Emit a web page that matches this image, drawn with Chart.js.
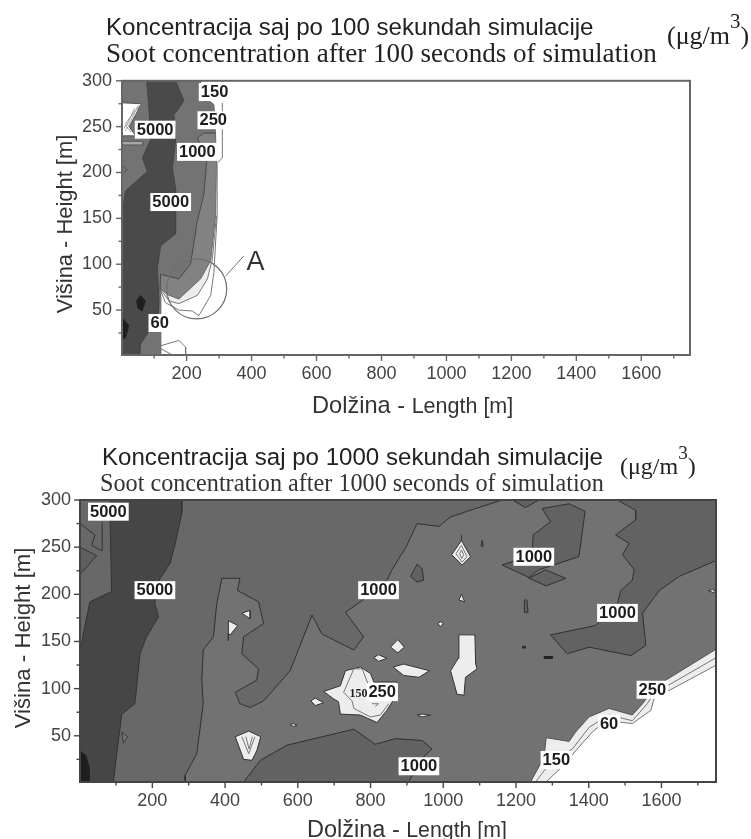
<!DOCTYPE html>
<html><head><meta charset="utf-8">
<script src="https://cdn.jsdelivr.net/npm/chart.js@4"></script>
<style>
html,body{margin:0;padding:0;background:#fff;width:751px;height:839px;overflow:hidden}
canvas{position:absolute;left:0;filter:blur(.55px)}
.t{position:absolute;white-space:nowrap;line-height:1;color:#222;filter:blur(.3px)}
.a{font-family:"Liberation Sans",Arial,sans-serif}
.s{font-family:"Liberation Serif","Times New Roman",serif}
sup{font-size:.8em;line-height:0;position:relative;top:-.32em;vertical-align:super}
</style></head><body>
<div class="t a" style="left:106px;top:15px;font-size:24.1px">Koncentracija saj po 100 sekundah simulacije</div>
<div class="t s" style="left:106px;top:40px;font-size:27.1px">Soot concentration after 100 seconds of simulation</div>
<div class="t s" style="left:667px;top:23px;font-size:26px">(μg/m<sup>3</sup>)</div>
<div class="t a" style="left:312px;top:394px;font-size:23.6px;color:#333">Dolžina - <span style="font-size:21.5px">Length [m]</span></div>
<div class="t a" style="left:102px;top:445px;font-size:24.1px">Koncentracija saj po 1000 sekundah simulacije</div>
<div class="t s" style="left:100px;top:471px;font-size:24.2px;color:#333">Soot concentration after 1000 seconds of simulation</div>
<div class="t s" style="left:620px;top:454px;font-size:24px">(μg/m<sup>3</sup>)</div>
<div class="t a" style="left:307px;top:818px;font-size:23.5px;color:#333">Dolžina - <span style="font-size:21.3px">Length [m]</span></div>
<canvas id="c1" width="751" height="370" style="top:60px"></canvas>
<canvas id="c2" width="751" height="359" style="top:480px"></canvas>
<script>
// ---- shared axis values ----
const xTickValues=[100,200,300,400,500,600,700,800,900,1000,1100,1200,1300,1400,1500,1600,1700];
const xTickLabels=[200,400,600,800,1000,1200,1400,1600];
const yTickValues=[25,50,75,100,125,150,175,200,225,250,275,300];
const yTickLabels=[50,100,150,200,250,300];
const yAxisTitle='Višina - Height [m]';

// ---- chart 1: after 100 s (x,y in metres) ----
const c1Band=[[1,300],[243,300],[247,285],[284,274],[289,241],[292,212],[289,153],[274,104],[243,84],[176,62],[140,67],[120,73],[120,1],[1,1]];
const c1Light=[[120,73],[140,67],[176,62],[243,84],[274,104],[289,153],[292,153],[279,105],[264,84],[233,66],[176,57],[146,60],[120,72]];
const c1Mid=[[1,300],[243,300],[247,285],[284,274],[289,243],[253,243],[233,238],[262,212],[253,176],[233,147],[212,100],[176,84],[120,89],[120,1],[1,1]];
const c1Dark=[[77,300],[166,300],[192,278],[161,263],[166,234],[156,205],[166,183],[166,133],[120,120],[110,96],[115,60],[112,42],[58,13],[56,1],[1,1],[1,154],[12,180],[79,201],[64,216],[89,236],[84,270]];
const c1Darkest1=[[58,66],[73,60],[63,49],[50,52],[46,60]];
const c1Darkest2=[[1,42],[22,33],[12,20],[1,18]];
const c1Hole=[[1,276],[60,275],[43,263],[23,250],[43,240],[1,240]];
const c1Strip=[[1,234],[62,234],[67,230],[1,230]];
const c1HoleLine1=[[60,275],[15,255],[8,248]];
const c1HoleLine2=[[50,273],[20,250],[10,245]];
const c1HoleLine3=[[40,270],[14,250],[30,244]];
const c1Bump=[[1,208],[17,203],[1,198]];
const c1LineA=[[120,72],[146,60],[176,57],[233,66],[264,84],[279,105],[292,153]];
const c1LineB=[[120,71],[135,58],[176,50],[217,49],[238,44],[274,66],[284,91],[294,153],[294,210],[310,216],[310,276]];
const c1Line1000=[[289,243],[253,243],[233,238],[262,212],[253,176],[233,147],[212,100],[176,84],[120,89],[118,71]];
const c1Bottom1=[[120,11],[176,17],[197,9.5],[197,1]];
const c1Bottom2=[[120,8],[151,2],[161,1]];
const c1Leader=[[320,87],[376,109]];
const c1Circle=[[231,73]];
const c1LabelText=['150','250','5000','1000','5000','60'];
const c1LabelX=[286,282,103,233,151,117];
const c1LabelY=[287.7,257,246.7,222.5,167.8,35.9];
const c1MarkText=['A'];
const c1MarkX=[412];
const c1MarkY=[102];

// ---- chart 2: after 1000 s (x,y in metres) ----
const c2Light=[[1,1],[1,300],[1751,300],[1751,125],[1621,98],[1584,96],[1571,77],[1520,63],[1447,66],[1410,54],[1364,34],[1327,17],[1282,1]];
const c2Main=[[1,1],[1,300],[1751,300],[1751,142],[1612,109],[1575,98],[1548,84],[1520,72],[1456,79],[1401,70],[1364,54],[1346,44],[1283,48],[1277,27],[1240,1]];
const c2Region1=[[1,300],[1162,300],[1089,291],[1020,282],[988,272],[928,275],[896,249],[859,226],[845,215],[772,192],[731,181],[781,155],[754,141],[666,158],[639,178],[579,119],[506,87],[469,80],[441,84],[428,96],[487,109],[492,121],[446,137],[451,155],[506,169],[492,192],[434,204],[441,217],[391,217],[377,190],[368,155],[340,141],[336,109],[340,84],[322,31],[290,8],[290,1],[1,1]];
const c2Region2=[[1479,300],[1529,289],[1529,279],[1474,263],[1511,254],[1493,242],[1525,226],[1520,215],[1488,204],[1479,190],[1419,167],[1295,157],[1341,137],[1401,144],[1516,135],[1557,146],[1548,180],[1594,204],[1649,219],[1751,236],[1751,300]];
const c2Region3=[[1272,291],[1346,296],[1390,288],[1382,265],[1373,240],[1318,233],[1263,226],[1235,218],[1162,231],[1199,236],[1245,245],[1247,263],[1295,277]];
const c2Region4=[[1235,217],[1281,226],[1337,217],[1283,209]];
const c2Region5=[[451,1],[497,24],[570,40],[754,57],[813,41],[868,47],[942,45],[969,36],[937,24],[905,1]];
const c2Small1=[[910,219],[928,232],[942,227],[946,215],[928,213]];
const c2Small2=[[1107,257],[1110,252],[1107,250],[1104,252]];
const c2Small3=[[1223,194],[1230,194],[1233,181],[1222,181]];
const c2Small4=[[1218,145],[1226,145],[1226,143],[1218,143]];
const c2Small5=[[1277,134],[1300,134],[1300,132],[1277,132]];
const c2TopNotch=[[1190,300],[1226,292],[1263,300]];
const c2Tri=[[116,54],[132,49],[120,42]];
const c2Dark=[[84,300],[281,300],[281,286],[263,254],[249,233],[212,211],[207,190],[217,176],[184,155],[166,137],[152,84],[116,73],[102,31],[93,1],[1,1],[1,137],[10,158],[28,192],[88,203],[84,273]];
const c2Darkest=[[1,34],[17,29],[26,17],[26,1],[1,1]];
const c2Left1=[[1,275],[42,263],[33,252],[62,246],[62,277]];
const c2Left2=[[1,250],[47,241],[1,221]];
const c2Holes=[
 [[409,172],[435,167],[414,157],[409,158]],
 [[446,180],[469,183],[469,174]],
 [[671,97],[717,103],[731,119],[772,123],[800,116],[809,107],[873,107],[871,93],[845,77],[818,64],[772,72],[717,73],[712,86],[699,89]],
 [[636,87],[648,90],[671,85],[648,82]],
 [[855,144],[875,152],[893,144],[875,138]],
 [[809,133],[822,136],[845,132],[822,129]],
 [[862,123],[891,126],[962,119],[933,112],[891,114]],
 [[928,72],[942,73],[965,72],[942,70]],
 [[579,62],[588,63],[598,61],[588,60]],
 [[1043,157],[1087,157],[1089,126],[1093,121],[1061,112],[1057,93],[1038,94],[1020,119],[1041,132]],
 [[1043,194],[1050,200],[1059,192]],
 [[985,169],[992,171],[1001,169],[992,166]],
 [[1023,242],[1050,257],[1075,240],[1052,231]],
 [[428,49],[465,55],[498,49],[487,34],[474,24],[451,25]],
 [[1729,204],[1741,205],[1751,203],[1741,202]]
];
const c2Inner=[
 [[795,103],[777,121],[754,121],[726,96],[749,87],[754,79],[800,70],[827,72],[850,84]],
 [[804,84],[822,84],[813,81]],
 [[1035,243],[1050,252],[1065,240],[1052,234],[1035,243]],
 [[1045,243],[1050,247],[1056,242],[1051,238],[1045,243]],
 [[446,49],[465,31],[482,49]],
 [[457,49],[466,36],[475,49]]
];
const c2Tails=[[[409,158],[409,151]],[[1050,257],[1050,263]]];
const c2LineA=[[1254,1],[1291,20],[1355,36],[1401,59],[1456,72],[1520,66],[1561,84],[1580,96],[1612,102],[1751,133]];
const c2LineB=[[1282,1],[1327,17],[1364,34],[1410,54],[1447,66],[1520,63],[1571,77],[1584,96],[1621,98],[1751,125]];
const c2LabelText=['5000','5000','1000','250','1000','1000','250','60','150','1000'];
const c2LabelX=[79,207,822,832,1249,1479,1575,1456,1311,933];
const c2LabelY=[287.6,204.4,204.4,96.3,239.8,180.3,98.8,62.7,24.4,17.7];
const c2SmallText=['150'];
const c2SmallX=[767];
const c2SmallY=[93.9];

// ---- colours ----
const GREY_DARKEST='#1e1e1e',GREY_DARK='#464646',GREY_R='#626262',GREY_MAIN='#727272',GREY_LIGHT='#ededed';

const toPts=a=>a.map(([x,y])=>({x,y}));
const poly=(pts,fill,stroke,w=1)=>({data:toPts([...pts,pts[0]]),showLine:true,fill:'shape',backgroundColor:fill,borderColor:stroke,borderWidth:w,pointRadius:0,tension:0});
const line=(pts,stroke,w=1)=>({data:toPts(pts),showLine:true,fill:false,borderColor:stroke,borderWidth:w,pointRadius:0,tension:0});
const ordered=l=>l.map((d,i)=>({...d,order:-i}));

const deco={id:'deco',afterDatasetsDraw(ch,_,o){
  const {ctx,chartArea:a,scales:{x,y}}=ch;
  ctx.save();
  o.labels.forEach(([t,vx,vy])=>{
    ctx.font=o.labelFont;
    const w=ctx.measureText(t).width+4,h=18;
    const px=x.getPixelForValue(vx),py=y.getPixelForValue(vy);
    ctx.fillStyle='#fff';ctx.fillRect(px-w/2,py-h/2,w,h);
  });
  ctx.textAlign='center';ctx.textBaseline='middle';
  o.labels.forEach(([t,vx,vy])=>{
    ctx.font=o.labelFont;ctx.fillStyle='#1c1c1c';
    ctx.fillText(t,x.getPixelForValue(vx),y.getPixelForValue(vy)+.5);
  });
  (o.extra||[]).forEach(([t,vx,vy,f,c])=>{
    ctx.font=f;ctx.fillStyle=c;
    ctx.fillText(t,x.getPixelForValue(vx),y.getPixelForValue(vy));
  });
  ctx.strokeStyle=o.frame;ctx.lineWidth=2;
  ctx.strokeRect(a.left,a.top,a.right-a.left,a.bottom-a.top);
  ctx.lineWidth=1.4;ctx.strokeStyle=o.frame;
  x.ticks.forEach(t=>{const p=x.getPixelForValue(t.value),l=t.label?6:3.5;
    ctx.beginPath();ctx.moveTo(p,a.bottom);ctx.lineTo(p,a.bottom+l);ctx.stroke();});
  y.ticks.forEach(t=>{const p=y.getPixelForValue(t.value),l=t.label?6:3.5;
    ctx.beginPath();ctx.moveTo(a.left,p);ctx.lineTo(a.left-l,p);ctx.stroke();});
  ctx.restore();
}};

function opts(cfg){
  return {responsive:false,animation:false,
   layout:{autoPadding:false,padding:{top:cfg.top,right:cfg.right,left:0,bottom:0}},
   plugins:{legend:{display:false},tooltip:{enabled:false},deco:cfg.deco},
   scales:{
    x:{type:'linear',min:1,max:1750,grid:{display:false,drawTicks:false},border:{display:false},
       afterBuildTicks:s=>{s.ticks=xTickValues.map(value=>({value}))},
       afterFit:s=>{s.height=cfg.xh},
       ticks:{autoSkip:false,maxRotation:0,padding:cfg.xpad,color:'#444',font:{family:'"Liberation Sans",Arial,sans-serif',size:18},
              callback:v=>xTickLabels.includes(v)?String(v):''}},
    y:{type:'linear',min:1,max:300,grid:{display:false,drawTicks:false},border:{display:false},
       afterBuildTicks:s=>{s.ticks=yTickValues.map(value=>({value}))},
       afterFit:s=>{s.width=cfg.yw},
       title:{display:true,text:cfg.ytitle,color:'#333',font:{family:'"Liberation Sans",Arial,sans-serif',size:cfg.ts},padding:{top:cfg.tp,bottom:0}},
       ticks:{autoSkip:false,padding:cfg.ypad,color:'#444',font:{family:'"Liberation Sans",Arial,sans-serif',size:18},
              callback:v=>yTickLabels.includes(v)?String(v):''}}
   }};
}
const zip=(t,x,y)=>t.map((s,i)=>[s,x[i],y[i]]);
const BOLD='bold 16.5px "Liberation Sans",Arial,sans-serif';

new Chart(document.getElementById('c1'),{type:'scatter',plugins:[deco],
 data:{datasets:ordered([
  poly(c1Light,GREY_LIGHT,'rgba(0,0,0,0)',0),
  poly(c1Band,'#828282','#6a6a6a'),
  poly(c1Mid,'#737373','rgba(0,0,0,0)',0),
  poly(c1Dark,'#4a4a4a','#444'),
  poly(c1Darkest1,GREY_DARKEST,'#222'),
  poly(c1Darkest2,GREY_DARKEST,'#222'),
  poly(c1Strip,'#a8a8a8','#555'),
  poly(c1Hole,'#ffffff','#555'),
  line(c1HoleLine1,'#999'),line(c1HoleLine2,'#aaa'),line(c1HoleLine3,'#999'),
  line(c1Bump,'#555'),
  line(c1LineA,'#777'),line(c1LineB,'#777'),line(c1Line1000,'#4a4a4a'),
  line(c1Bottom1,'#777'),line(c1Bottom2,'#777'),line(c1Leader,'#777'),
  {data:toPts(c1Circle),pointRadius:30,pointBackgroundColor:'rgba(0,0,0,0)',pointBorderColor:'#6e6e6e',pointBorderWidth:1.2}
 ])},
 options:opts({top:19,right:61,xh:75,yw:122,xpad:8,ypad:10,ts:21.9,tp:52.7,ytitle:yAxisTitle+'  ',
  deco:{labels:zip(c1LabelText,c1LabelX,c1LabelY),labelFont:BOLD,frame:'#666',
        extra:zip(c1MarkText,c1MarkX,c1MarkY).map(a=>[...a,'27px "Liberation Sans",Arial,sans-serif','#333'])}})
});

new Chart(document.getElementById('c2'),{type:'scatter',plugins:[deco],
 data:{datasets:ordered([
  poly(c2Light,GREY_LIGHT,'rgba(0,0,0,0)',0),
  poly(c2Main,GREY_MAIN,'#555'),
  poly(c2Region1,'#686868','#303030'),
  poly(c2Region2,GREY_R,'#303030'),
  poly(c2Region3,GREY_R,'#303030'),
  poly(c2Region4,GREY_R,'#303030'),
  poly(c2Region5,GREY_R,'#303030'),
  poly(c2Small1,GREY_R,'#303030'),
  poly(c2Small2,GREY_R,'#303030'),
  poly(c2Small3,GREY_R,'#303030'),
  poly(c2Small4,'#333','#303030'),
  poly(c2Small5,'#222','#222'),
  poly(c2TopNotch,GREY_R,'#303030'),
  poly(c2Tri,GREY_MAIN,'#3a3a3a'),
  poly(c2Dark,GREY_DARK,'#333'),
  poly(c2Darkest,GREY_DARKEST,'#222'),
  line(c2Left1,'#333'),
  poly(c2Left2,'#5e5e5e','#333'),
  ...c2Holes.map(h=>poly(h,GREY_LIGHT,'#333')),
  ...c2Inner.map(h=>line(h,'#777')),
  ...c2Tails.map(h=>line(h,'#333')),
  line(c2LineA,'#777'),line(c2LineB,'#777')
 ])},
 options:opts({top:20,right:35,xh:57,yw:80,xpad:8,ypad:9,ts:22.2,tp:10.4,ytitle:' '+yAxisTitle,
  deco:{labels:zip(c2LabelText,c2LabelX,c2LabelY),labelFont:BOLD,frame:'#444',
        extra:zip(c2SmallText,c2SmallX,c2SmallY).map(a=>[...a,'bold 12px "Liberation Serif",serif','#222'])}})
});
</script>
</body></html>
